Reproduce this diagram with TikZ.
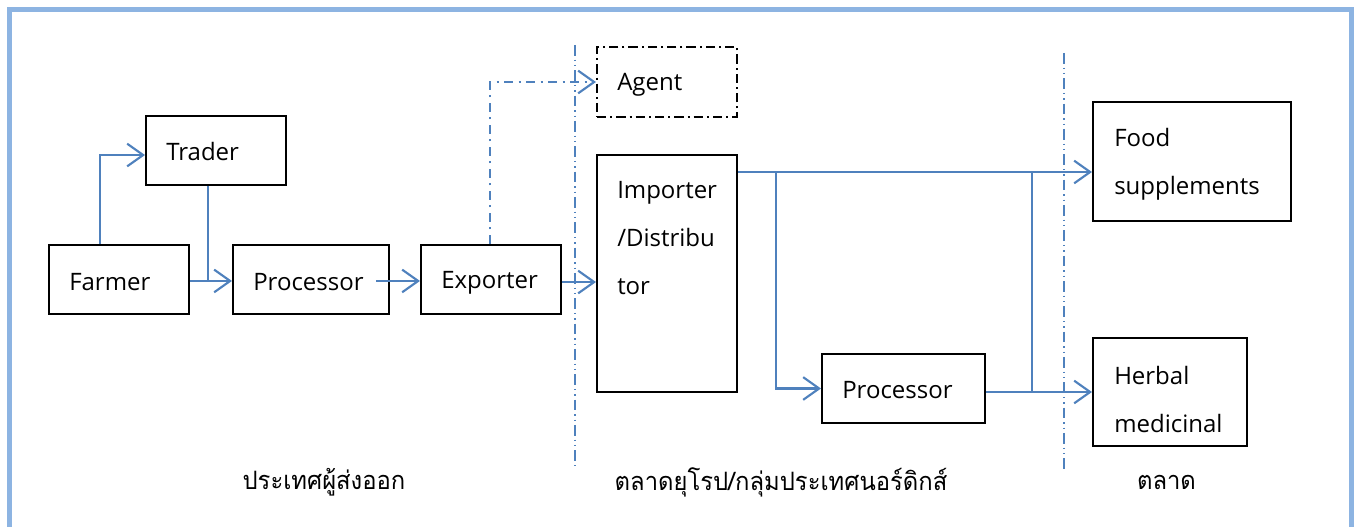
\documentclass[tikz,border=0pt]{standalone}
\usepackage{fontspec}
\setmainfont{Open Sans}
\newfontfamily\thaifont[Script=Thai,FakeStretch=0.94]{Loma}
\usetikzlibrary{arrows.meta,fit}
\definecolor{framecol}{HTML}{8DB4E2}
\definecolor{linecol}{HTML}{4F81BD}
\tikzset{
  box/.style={draw=black, line width=1.5pt, inner sep=0pt},
  dbox/.style={box, dash pattern=on 7pt off 3pt on 1.5pt off 3pt},
  conn/.style={draw=linecol, line width=1.6pt, -{Straight Barb[length=12pt,width=17pt]}},
  plain/.style={draw=linecol, line width=1.6pt},
  dconn/.style={conn, dash pattern=on 7pt off 4pt on 1.5pt off 4pt},
  divider/.style={draw=linecol, line width=1pt, dash pattern=on 8pt off 3pt on 1pt off 3pt on 1pt off 3pt},
  lbl/.style={anchor=west, inner sep=0pt, font=\fontsize{18}{36}\selectfont},
  mlbl/.style={anchor=north west, inner sep=0pt, align=left, font=\fontsize{18}{36}\selectfont},
  thai/.style={inner sep=0pt, font=\thaifont\fontsize{19}{22}\selectfont}
}
\begin{document}
\begin{tikzpicture}[x=0.75pt,y=-0.75pt]
\useasboundingbox (0,0) rectangle (1354,527);
\begin{scope}
\clip (0,0) rectangle (1354,527);
\draw[framecol, line width=3.75pt] (9.5,10) rectangle (1351.5,540);
\end{scope}

% boxes
\node[box, fit={(146,116) (286,185)}] (trader) {};
\node[box, fit={(49,245) (189,314)}] (farmer) {};
\node[box, fit={(233,245) (389,314)}] (proc1) {};
\node[box, fit={(421,245) (561,314)}] (exporter) {};
\node[dbox, fit={(597,47) (737,117)}] (agent) {};
\node[box, fit={(597,155) (737,392)}] (importer) {};
\node[box, fit={(822,354) (985,423)}] (proc2) {};
\node[box, fit={(1093,102) (1291,221)}] (food) {};
\node[box, fit={(1093,338) (1247,446)}] (herbal) {};

% texts
\node[lbl] (trader-t) at ([xshift=15.75pt,yshift=-27.5pt]trader.north west) {Trader};
\node[lbl] (farmer-t) at ([xshift=15.75pt,yshift=-28.25pt]farmer.north west) {Farmer};
\node[lbl] (proc1-t) at ([xshift=15.75pt,yshift=-28.25pt]proc1.north west) {Processor};
\node[lbl] (exporter-t) at ([xshift=15.75pt,yshift=-28.75pt]exporter.north west) {Exporter};
\node[lbl] (agent-t) at ([xshift=15.75pt,yshift=-29pt]agent.north west) {Agent};
\node[lbl] (proc2-t) at ([xshift=15.75pt,yshift=-27.75pt]proc2.north west) {Processor};
\node[mlbl] (importer-t) at ([xshift=15.75pt,yshift=-20.5pt]importer.north west) {Importer\\/Distribu\\tor};
\node[mlbl] (food-t) at ([xshift=16.5pt,yshift=-20pt]food.north west) {Food\\supplements};
\node[mlbl] (herbal-t) at ([xshift=16.5pt,yshift=-22pt]herbal.north west) {Herbal\\medicinal};

% dividers
\coordinate (d1a) at (575,45);
\coordinate (d1b) at (575,468);
\coordinate (d2a) at (1064,53);
\coordinate (d2b) at (1064,470);
\draw[divider] (d1a) -- (d1b);
\draw[divider] (d2a) -- (d2b);

% connectors
\draw[conn] ([xshift=-14.25pt]farmer.north) |- ([yshift=-3.4pt]trader.west);
\draw[plain] ([xshift=-6pt]trader.south) -- ([xshift=-6pt,yshift=-1pt]trader.south |- farmer.east);
\draw[conn] ([yshift=-1.1pt]farmer.east) -- ([yshift=-1.1pt]proc1.west);
\draw[conn] ([xshift=-10.5pt,yshift=-1.1pt]proc1.east) -- ([yshift=-1.1pt]exporter.west);
\draw[conn] ([yshift=-1.9pt]exporter.east) -- ([yshift=-1.9pt]exporter.east -| importer.west);
\draw[dconn] ([xshift=-0.75pt]exporter.north) |- (agent.west);
\coordinate (b1) at (776,173);
\coordinate (b2) at (1032,173);
\draw[conn] ([yshift=-13.5pt]importer.north east) -- ([yshift=-13.5pt]importer.north east -| food.west);
\draw[conn] (b1) |- (proc2.west);
\draw[conn] (proc2.east |- herbal.west) -- (herbal.west);
\draw[plain] (b2) -- (b2 |- herbal.west);

% Thai labels
\node[thai] (l1) at (324,482) {ประเทศผู้ส่งออก};
\node[thai] (l2) at (781,482) {ตลาดยุโรป/กลุ่มประเทศนอร์ดิกส์};
\node[thai] (l3) at (1166.5,482) {ตลาด};
\end{tikzpicture}
\end{document}
